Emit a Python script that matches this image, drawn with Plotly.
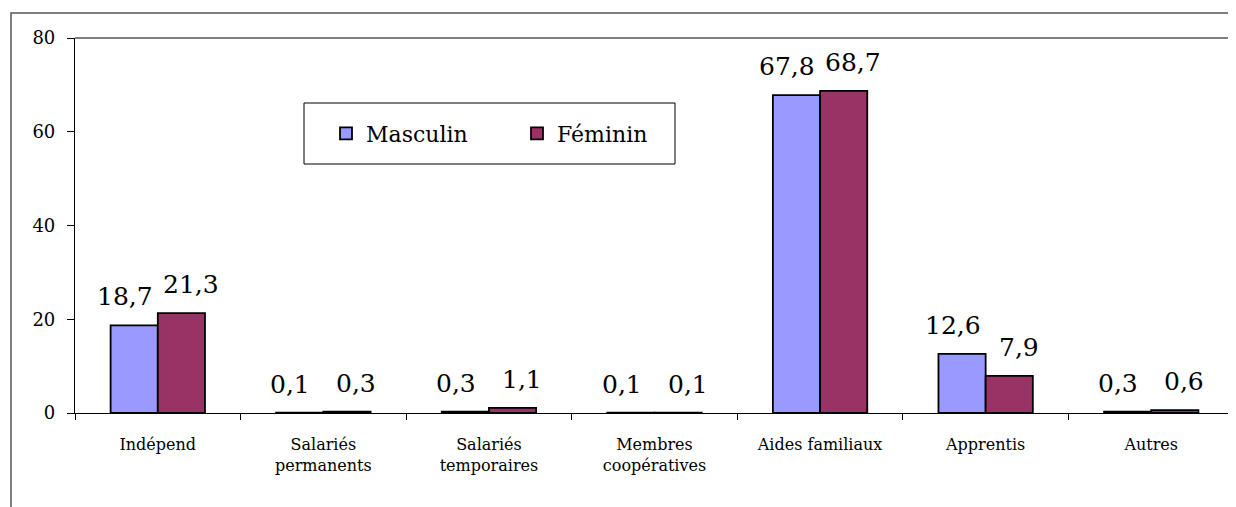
import plotly.graph_objects as go

categories = ["Indépend", "Salariés<br>permanents", "Salariés<br>temporaires",
              "Membres<br>coopératives", "Aides familiaux", "Apprentis", "Autres"]
masculin = [18.7, 0.1, 0.3, 0.1, 67.8, 12.6, 0.3]
feminin = [21.3, 0.3, 1.1, 0.1, 68.7, 7.9, 0.6]
y_ticks = [0, 20, 40, 60, 80]

FONT = "DejaVu Serif"
OFF = 8  # page body margin of the browser
W, H = 1236 - OFF, 507 - OFF
ML, MR, MT, MB = 75 - OFF, 2, 38 - OFF, 94
PW, PH = W - ML - MR, H - MT - MB


def px(x):  # screen x -> paper
    return (x - OFF - ML) / PW


def py(y):  # screen y -> paper
    return (H + OFF - MB - y) / PH


fig = go.Figure()
fig.add_trace(go.Bar(name="Masculin", x=categories, y=masculin,
                     marker=dict(color="#9999FF", line=dict(color="black", width=1.8))))
fig.add_trace(go.Bar(name="Féminin", x=categories, y=feminin,
                     marker=dict(color="#993366", line=dict(color="black", width=1.8))))


def fmt(v):
    return f"{v:.1f}".replace(".", ",")


annotations = []
for series, shift in ((masculin, -33), (feminin, 33)):
    for c, v in zip(categories, series):
        annotations.append(dict(x=c, y=v, xref="x", yref="y", text=fmt(v),
                                showarrow=False, yanchor="bottom", xshift=shift, yshift=12,
                                font=dict(family=FONT, size=25, color="black")))

shapes = [
    # outer chart frame
    dict(type="rect", xref="paper", yref="paper", x0=px(11), x1=1.05, y0=-0.5, y1=py(13),
         line=dict(color="#555555", width=1.5), layer="below"),
    # legend box
    dict(type="rect", xref="paper", yref="paper", x0=px(304), x1=px(675), y0=py(164), y1=py(103),
         line=dict(color="black", width=1), fillcolor="white", layer="below"),
    # plot-area top border
    dict(type="line", xref="paper", yref="paper", x0=0, x1=1, y0=1, y1=1,
         line=dict(color="black", width=1.2)),
    # plot-area right border
    dict(type="line", xref="paper", yref="paper", x0=1, x1=1, y0=0, y1=1,
         line=dict(color="#888888", width=1.2)),
]

fig.update_layout(
    width=W, height=H,
    margin=dict(l=ML, r=MR, t=MT, b=MB, autoexpand=False),
    paper_bgcolor="white", plot_bgcolor="white",
    barmode="group", bargap=0.43, bargroupgap=0,
    font=dict(family=FONT, color="black"),
    showlegend=True,
    legend=dict(orientation="h", x=px(326), y=py(133.5), xanchor="left", yanchor="middle",
                borderwidth=0, bgcolor="rgba(0,0,0,0)",
                font=dict(family=FONT, size=22, color="black"),
                entrywidth=146, entrywidthmode="pixels"),
    annotations=annotations,
    shapes=shapes,
)
fig.update_xaxes(showline=True, linecolor="black", linewidth=1.2,
                 ticks="outside", tickson="boundaries", ticklen=6, tickcolor="black",
                 tickfont=dict(family=FONT, size=16, color="black"),
                 ticklabelstandoff=17, showgrid=False, zeroline=False)
fig.update_yaxes(range=[0, 80], tickvals=y_ticks, showline=True, linecolor="black", linewidth=1.2,
                 ticks="outside", ticklen=7, tickcolor="black",
                 tickfont=dict(family=FONT, size=18, color="black"),
                 ticklabelstandoff=8, showgrid=False, zeroline=False)

fig.write_html("out.html")
